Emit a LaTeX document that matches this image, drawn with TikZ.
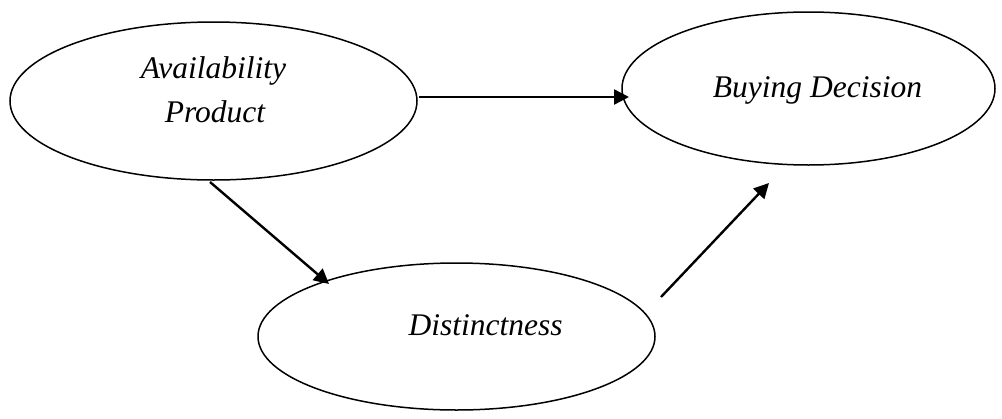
\documentclass[tikz,border=0pt]{standalone}
\usepackage{fontspec}
\setmainfont{Liberation Serif}
\usetikzlibrary{shapes.geometric,arrows.meta}
\tikzset{
  oval/.style={ellipse, draw, line width=1.5pt, inner sep=0pt},
  txt/.style={font=\fontsize{31.5}{40}\selectfont\itshape, anchor=base, inner sep=0pt},
  arr/.style={line width=2.4pt, -{Triangle[length=15pt,width=15pt]}}
}
\begin{document}
\begin{tikzpicture}[x=1pt,y=-1pt]
\useasboundingbox (0,0) rectangle (1002,418);
\node[oval, minimum width=407pt, minimum height=158pt] (avail) at (213.5,101) {};
\node[oval, minimum width=373pt, minimum height=153pt] (buy) at (808.5,88.5) {};
\node[oval, minimum width=397pt, minimum height=147pt] (dist) at (456.5,336.5) {};
\node[txt] (availA) at (213.5,78) {Availability};
\node[txt] (availB) at (215,122) {Product};
\node[txt] (buyT) at (817.5,97) {Buying Decision};
\node[txt] (distT) at (485.5,335) {Distinctness};
\coordinate (a1) at (419,97);
\coordinate (b1) at (629,97);
\coordinate (a2) at (210,182);
\coordinate (d2) at (329,284);
\coordinate (d3) at (661,297);
\coordinate (b3) at (769,183);
\draw[arr] (a1) -- (b1);
\draw[arr] (a2) -- (d2);
\draw[arr] (d3) -- (b3);
\end{tikzpicture}
\end{document}
